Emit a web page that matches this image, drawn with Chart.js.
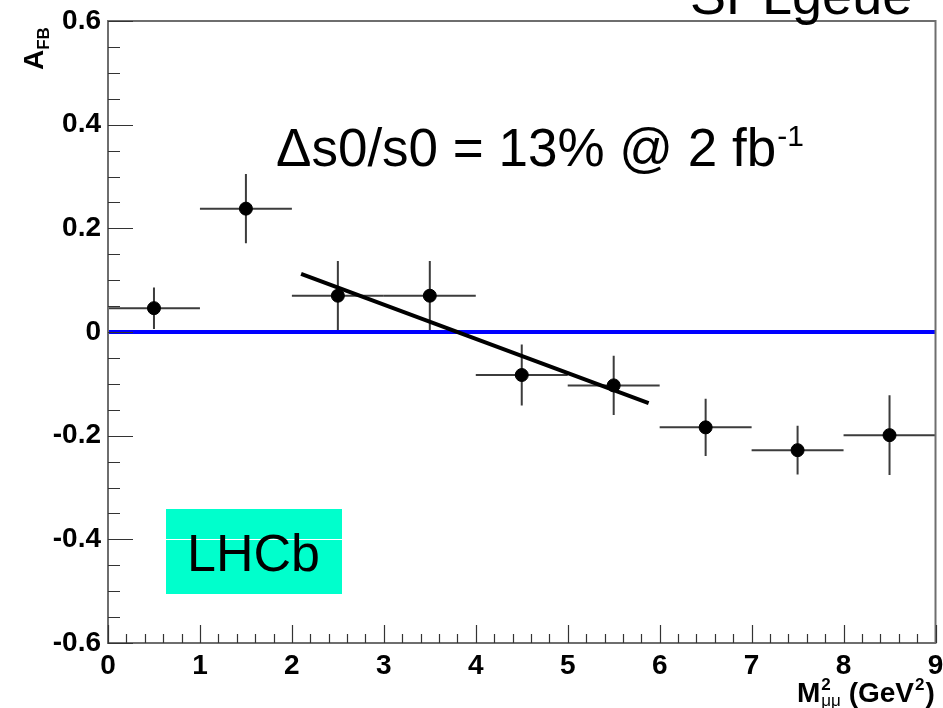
<!DOCTYPE html>
<html>
<head>
<meta charset="utf-8">
<script src="https://cdn.jsdelivr.net/npm/chart.js@4"></script>
<style>
  html, body { margin: 0; padding: 0; background: #fff; }
  #wrap { width: 943px; height: 708px; }
</style>
</head>
<body>
<div id="wrap"><canvas id="canvas" width="943" height="708"></canvas></div>
<script>
// bins of M^2 (GeV^2)
var binCenters = [0.5, 1.5, 2.5, 3.5, 4.5, 5.5, 6.5, 7.5, 8.5];
var binHalfWidth = [0.5, 0.5, 0.5, 0.5, 0.5, 0.5, 0.5, 0.5, 0.5];
var afbValues = [0.046, 0.238, 0.070, 0.070, -0.083, -0.103, -0.184, -0.228, -0.199];
var afbErrors = [0.040, 0.067, 0.067, 0.067, 0.059, 0.057, 0.055, 0.047, 0.077];
// straight line fit around the zero crossing
var fitX = [2.1, 5.88];
var fitY = [0.112, -0.137];
var zeroX = [0, 9];
var zeroY = [0, 0];
var yTicks = [-0.6, -0.4, -0.2, 0, 0.2, 0.4, 0.6];
var xTicks = [0, 1, 2, 3, 4, 5, 6, 7, 8, 9];

function pts(xs, ys) {
    return xs.map(function (x, i) { return { x: x, y: ys[i] }; });
}

var labelFont = { family: "'Liberation Sans', Arial, sans-serif", size: 28, weight: 'bold' };

var decorations = {
    id: 'decorations',
    beforeDatasetsDraw: function (chart) {
        var ctx = chart.ctx;
        var xs = chart.scales.x, ys = chart.scales.y;
        ctx.save();
        ctx.strokeStyle = '#3c3c3c';
        ctx.lineWidth = 2;
        for (var i = 0; i < binCenters.length; i++) {
            var cx = xs.getPixelForValue(binCenters[i]);
            var cy = ys.getPixelForValue(afbValues[i]);
            ctx.beginPath();
            ctx.moveTo(xs.getPixelForValue(binCenters[i] - binHalfWidth[i]), cy);
            ctx.lineTo(xs.getPixelForValue(binCenters[i] + binHalfWidth[i]), cy);
            ctx.moveTo(cx, ys.getPixelForValue(afbValues[i] + afbErrors[i]));
            ctx.lineTo(cx, ys.getPixelForValue(afbValues[i] - afbErrors[i]));
            ctx.stroke();
        }
        ctx.restore();
    },
    afterDraw: function (chart) {
        var ctx = chart.ctx;
        var a = chart.chartArea;
        var xs = chart.scales.x, ys = chart.scales.y;
        ctx.save();

        // frame
        ctx.strokeStyle = '#6e6e6e';
        ctx.lineWidth = 2;
        ctx.strokeRect(a.left, a.top, a.right - a.left, a.bottom - a.top);

        // inward ticks, ROOT style
        ctx.strokeStyle = '#333';
        ctx.lineWidth = 1.2;
        ctx.beginPath();
        for (var k = 0; k <= 24; k++) {
            var v = -0.6 + k * 0.05;
            var py = Math.round(ys.getPixelForValue(v)) + 0.5;
            var len = (k % 4 === 0) ? 25 : 12;
            ctx.moveTo(a.left, py);
            ctx.lineTo(a.left + len, py);
        }
        for (var j = 0; j <= 45; j++) {
            var px = Math.round(xs.getPixelForValue(j * 0.2)) + 0.5;
            var l2 = (j % 5 === 0) ? 18 : 9;
            ctx.moveTo(px, a.bottom);
            ctx.lineTo(px, a.bottom - l2);
        }
        ctx.stroke();

        // LHCb box
        ctx.fillStyle = '#00ffcc';
        ctx.fillRect(166, 509, 176, 85);
        ctx.strokeStyle = '#ffffff';
        ctx.lineWidth = 1;
        ctx.beginPath();
        ctx.moveTo(166, Math.round(ys.getPixelForValue(-0.4)) + 0.5);
        ctx.lineTo(342, Math.round(ys.getPixelForValue(-0.4)) + 0.5);
        ctx.stroke();
        ctx.fillStyle = '#000';
        ctx.textBaseline = 'alphabetic';
        ctx.textAlign = 'left';
        ctx.font = "52px 'Liberation Sans', Arial, sans-serif";
        ctx.fillText('LHCb', 187, 571);

        // annotation
        ctx.font = "53px 'Liberation Sans', Arial, sans-serif";
        var txt = '\u0394s0/s0 = 13% @ 2 fb';
        ctx.fillText(txt, 276, 166);
        var w = ctx.measureText(txt).width;
        ctx.font = "30px 'Liberation Sans', Arial, sans-serif";
        ctx.fillText('-1', 276 + w + 1, 146);

        // clipped text at the top edge
        ctx.font = "54px 'Liberation Sans', Arial, sans-serif";
        ctx.fillText('SPLgeue', 690, 14);

        // x axis title
        ctx.font = "bold 28px 'Liberation Sans', Arial, sans-serif";
        ctx.textAlign = 'left';
        var x0 = 797, by = 702;
        ctx.fillText('M', x0, by);
        var mw = ctx.measureText('M').width;
        ctx.font = "bold 17px 'Liberation Sans', Arial, sans-serif";
        ctx.fillText('2', x0 + mw + 1, by - 12);
        ctx.font = "17px 'Liberation Sans', Arial, sans-serif";
        ctx.fillText('\u03bc\u03bc', x0 + mw + 1, by + 4);
        var sw = ctx.measureText('\u03bc\u03bc').width;
        ctx.font = "bold 28px 'Liberation Sans', Arial, sans-serif";
        var rest = ' (GeV';
        ctx.fillText(rest, x0 + mw + sw + 1, by);
        var rw = ctx.measureText(rest).width;
        ctx.font = "bold 17px 'Liberation Sans', Arial, sans-serif";
        ctx.fillText('2', x0 + mw + sw + 1 + rw + 1, by - 12);
        var tw = ctx.measureText('2').width;
        ctx.font = "bold 28px 'Liberation Sans', Arial, sans-serif";
        ctx.fillText(')', x0 + mw + sw + 1 + rw + tw + 2, by);

        // y axis title
        ctx.translate(43, 70);
        ctx.rotate(-Math.PI / 2);
        ctx.font = "bold 28px 'Liberation Sans', Arial, sans-serif";
        ctx.fillText('A', 0, 0);
        var aw = ctx.measureText('A').width;
        ctx.font = "bold 17px 'Liberation Sans', Arial, sans-serif";
        ctx.fillText('FB', aw, 6);
        ctx.restore();
    }
};

var config = {
    type: 'scatter',
    data: {
        datasets: [{
            label: 'A_FB',
            data: pts(binCenters, afbValues),
            backgroundColor: '#000',
            borderColor: '#000',
            pointRadius: 6.5,
            pointHoverRadius: 6.5,
            order: 0
        }, {
            label: 'fit',
            type: 'line',
            data: pts(fitX, fitY),
            borderColor: '#000',
            borderWidth: 4,
            pointRadius: 0,
            fill: false,
            order: 1
        }, {
            label: 'zero',
            type: 'line',
            data: pts(zeroX, zeroY),
            borderColor: '#0000ff',
            borderWidth: 4,
            pointRadius: 0,
            fill: false,
            order: 2
        }]
    },
    options: {
        responsive: false,
        animation: false,
        layout: { padding: { top: 21, right: 6, left: 0, bottom: 0 } },
        plugins: {
            legend: { display: false },
            tooltip: { enabled: false }
        },
        scales: {
            x: {
                type: 'linear',
                min: 0,
                max: 9,
                grid: { display: false, drawTicks: false },
                border: { display: false },
                afterBuildTicks: function (s) { s.ticks = xTicks.map(function (v) { return { value: v }; }); },
                afterFit: function (s) { s.height = 65; s.paddingLeft = 0; s.paddingRight = 0; },
                ticks: {
                    color: '#000',
                    font: labelFont,
                    padding: 6,
                    maxRotation: 0,
                    autoSkip: false
                }
            },
            y: {
                type: 'linear',
                min: -0.6,
                max: 0.6,
                grid: { display: false, drawTicks: false },
                border: { display: false },
                afterBuildTicks: function (s) { s.ticks = yTicks.map(function (v) { return { value: v }; }); },
                afterFit: function (s) { s.width = 108; s.paddingTop = 0; s.paddingBottom = 0; },
                ticks: {
                    color: '#000',
                    font: labelFont,
                    padding: 7,
                    callback: function (v) { return String(Math.round(v * 10) / 10); }
                }
            }
        }
    },
    plugins: [decorations]
};

var chart = new Chart(document.getElementById('canvas'), config);
</script>
</body>
</html>
